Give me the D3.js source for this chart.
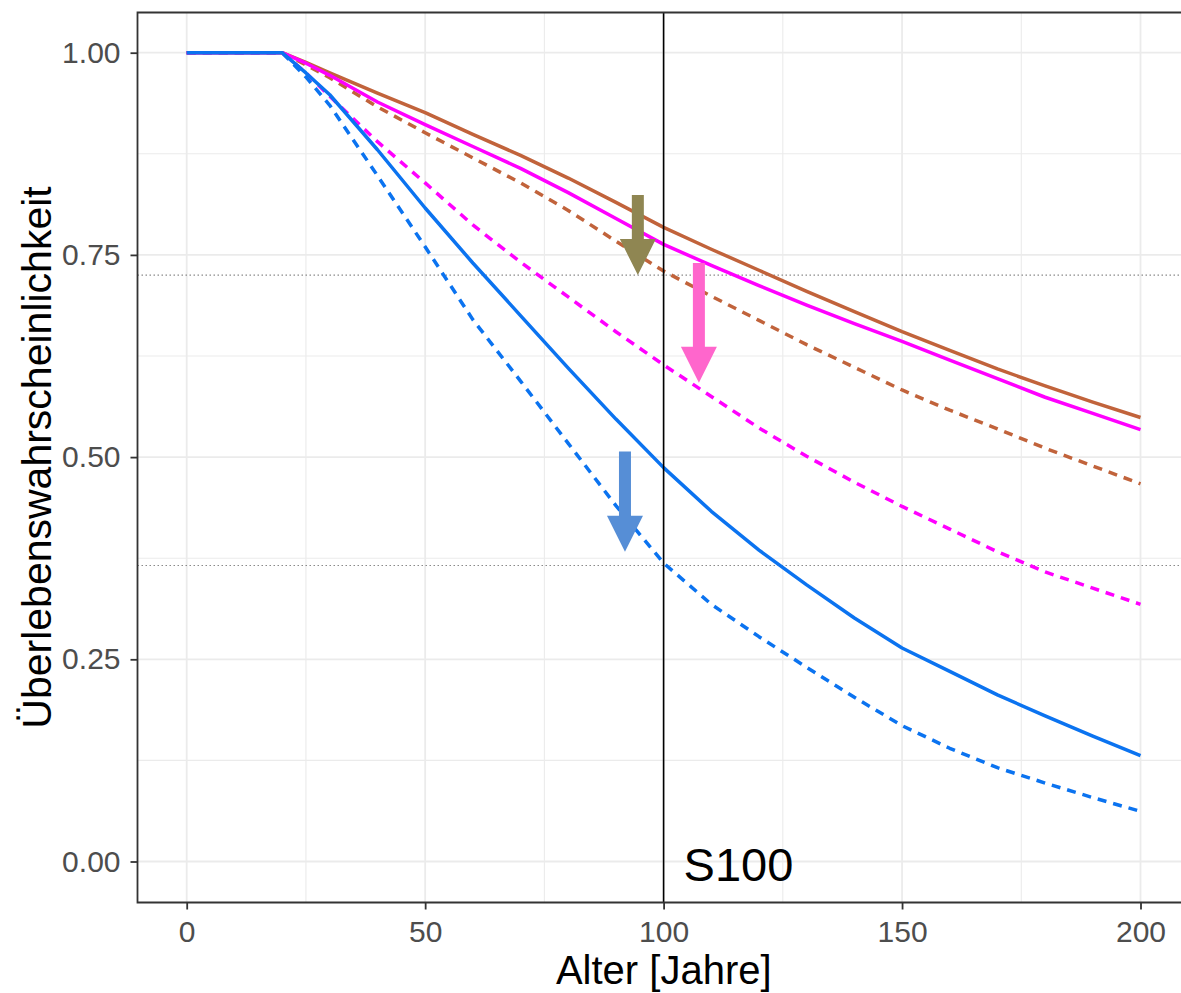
<!DOCTYPE html>
<html><head><meta charset="utf-8">
<script src="https://cdn.jsdelivr.net/npm/d3@7"></script>
<style>body{margin:0;background:#fff} svg{display:block}</style>
</head><body>
<svg id="chart" width="1181" height="993"></svg>
<script>
// ---- data ----
const ages = [0,20,25,30,40,50,60,70,80,90,100,110,120,130,140,150,160,170,180,190,200];
const brownSolid    = [1,1,0.988,0.975,0.950,0.926,0.899,0.873,0.845,0.815,0.784,0.757,0.731,0.705,0.680,0.655,0.632,0.609,0.588,0.568,0.549];
const magentaSolid  = [1,1,0.987,0.972,0.939,0.911,0.884,0.857,0.827,0.795,0.763,0.737,0.712,0.688,0.665,0.643,0.620,0.597,0.574,0.554,0.534];
const brownDashed   = [1,1,0.985,0.969,0.933,0.901,0.870,0.839,0.805,0.767,0.730,0.699,0.669,0.639,0.611,0.583,0.558,0.535,0.511,0.489,0.467];
const magentaDashed = [1,1,0.975,0.946,0.890,0.839,0.787,0.741,0.698,0.655,0.614,0.575,0.536,0.501,0.469,0.439,0.411,0.383,0.358,0.338,0.318];
const blueSolid     = [1,1,0.975,0.948,0.880,0.808,0.740,0.675,0.610,0.547,0.487,0.433,0.385,0.342,0.301,0.264,0.235,0.206,0.180,0.155,0.131];
const blueDashed    = [1,1,0.970,0.935,0.848,0.760,0.670,0.594,0.517,0.440,0.369,0.318,0.278,0.240,0.203,0.168,0.140,0.116,0.097,0.079,0.062];

const xTicks = [0,50,100,150,200];
const xMinor = [25,75,125,175];
const yTicks = [0,0.25,0.5,0.75,1];
const yTickLabels = ["0.00","0.25","0.50","0.75","1.00"];
const yMinor = [0.125,0.375,0.625,0.875];
const refLevels = [0.725, 0.366];
const refAge = 100;
const refLabel = "S100";
const xTitle = "Alter [Jahre]";
const yTitle = "Überlebenswahrscheinlichkeit";

const series = [
  {name:"brownDashed", values:brownDashed, color:"#C1633B", dash:"9,7"},
  {name:"magentaDashed", values:magentaDashed, color:"#FF00FF", dash:"9,7"},
  {name:"blueDashed", values:blueDashed, color:"#0B73F0", dash:"9,7"},
  {name:"brownSolid", values:brownSolid, color:"#C1633B", dash:null},
  {name:"magentaSolid", values:magentaSolid, color:"#FF00FF", dash:null},
  {name:"blueSolid", values:blueSolid, color:"#0B73F0", dash:null}
];
// annotation arrows: age, start value, tip value
const arrows = [
  {age:94.6, from:0.824, to:0.725, color:"#8F8652"},
  {age:107.4, from:0.740, to:0.592, color:"#FF66CC"},
  {age:91.9, from:0.507, to:0.383, color:"#568ED6"}
];

// ---- layout ----
const svg = d3.select("#chart");
const panel = {left:137.5, top:12.5, right:1195, bottom:902.5};
const x = d3.scaleLinear().domain([0,200]).range([186.7,1140.5]);
const y = d3.scaleLinear().domain([0,1]).range([861.5,52.7]);

svg.append("defs").append("clipPath").attr("id","clip")
  .append("rect").attr("x",panel.left).attr("y",panel.top)
  .attr("width",panel.right-panel.left).attr("height",panel.bottom-panel.top);

const grid = svg.append("g");
grid.selectAll(".vminor").data(xMinor).join("line")
  .attr("x1",d=>x(d)).attr("x2",d=>x(d)).attr("y1",panel.top).attr("y2",panel.bottom)
  .attr("stroke","#ebebeb").attr("stroke-width",1.1);
grid.selectAll(".hminor").data(yMinor).join("line")
  .attr("y1",d=>y(d)).attr("y2",d=>y(d)).attr("x1",panel.left).attr("x2",panel.right)
  .attr("stroke","#ebebeb").attr("stroke-width",1.1);
grid.selectAll(".vmajor").data(xTicks).join("line")
  .attr("x1",d=>x(d)).attr("x2",d=>x(d)).attr("y1",panel.top).attr("y2",panel.bottom)
  .attr("stroke","#ebebeb").attr("stroke-width",1.8);
grid.selectAll(".hmajor").data(yTicks).join("line")
  .attr("y1",d=>y(d)).attr("y2",d=>y(d)).attr("x1",panel.left).attr("x2",panel.right)
  .attr("stroke","#ebebeb").attr("stroke-width",1.8);

const plot = svg.append("g").attr("clip-path","url(#clip)");

// reference dotted lines
plot.selectAll(".ref").data(refLevels).join("line")
  .attr("x1",panel.left).attr("x2",panel.right)
  .attr("y1",d=>y(d)).attr("y2",d=>y(d))
  .attr("stroke","#8a8a8a").attr("stroke-width",1.2).attr("stroke-dasharray","1.5,2.5");

const line = d3.line().x((d,i)=>x(ages[i])).y(d=>y(d));
plot.selectAll(".series").data(series).join("path")
  .attr("d",d=>line(d.values))
  .attr("fill","none").attr("stroke",d=>d.color).attr("stroke-width",3.5)
  .attr("stroke-dasharray",d=>d.dash)
  .attr("stroke-linejoin","round");

// vertical line
plot.append("line").attr("x1",x(refAge)).attr("x2",x(refAge))
  .attr("y1",panel.top).attr("y2",panel.bottom)
  .attr("stroke","#000").attr("stroke-width",1.6);

// arrows
const shaftW = 12, headW = 36, headL = 36;
plot.selectAll(".arrow").data(arrows).join("path")
  .attr("d",a=>{
    const cx = x(a.age), y0 = y(a.from), yt = y(a.to), yb = yt - headL;
    return `M${cx-shaftW/2},${y0}L${cx+shaftW/2},${y0}L${cx+shaftW/2},${yb}L${cx+headW/2},${yb}L${cx},${yt}L${cx-headW/2},${yb}L${cx-shaftW/2},${yb}Z`;
  })
  .attr("fill",a=>a.color);

// S100 label
svg.append("text").attr("x",x(refAge)+20).attr("y",881)
  .attr("font-family","Liberation Sans, Arial, sans-serif").attr("font-size",47)
  .attr("fill","#000").text(refLabel);

// panel border
svg.append("path")
  .attr("d",`M${panel.right},${panel.top}L${panel.left},${panel.top}L${panel.left},${panel.bottom}L${panel.right},${panel.bottom}`)
  .attr("fill","none").attr("stroke","#333").attr("stroke-width",1.8);

// axes
const xAxis = svg.append("g").attr("transform",`translate(0,${panel.bottom})`)
  .call(d3.axisBottom(x).tickValues(xTicks).tickSize(7).tickPadding(11).tickFormat(d3.format("d")));
const yAxis = svg.append("g").attr("transform",`translate(${panel.left},0)`)
  .call(d3.axisLeft(y).tickValues(yTicks).tickSize(7).tickPadding(10).tickFormat((d,i)=>yTickLabels[i]));
[xAxis,yAxis].forEach(g=>{
  g.select(".domain").remove();
  g.selectAll(".tick line").attr("stroke","#333").attr("stroke-width",1.8);
  g.selectAll(".tick text").attr("fill","#4d4d4d")
    .attr("font-family","Liberation Sans, Arial, sans-serif").attr("font-size",30);
});

// titles
svg.append("text").attr("x",(panel.left+1190)/2).attr("y",984)
  .attr("text-anchor","middle").attr("font-family","Liberation Sans, Arial, sans-serif")
  .attr("font-size",40).attr("fill","#000").text(xTitle);
svg.append("text").attr("transform",`translate(51,${(panel.top+panel.bottom)/2}) rotate(-90)`)
  .attr("text-anchor","middle").attr("font-family","Liberation Sans, Arial, sans-serif")
  .attr("font-size",41).attr("fill","#000").text(yTitle);
</script>
</body></html>
